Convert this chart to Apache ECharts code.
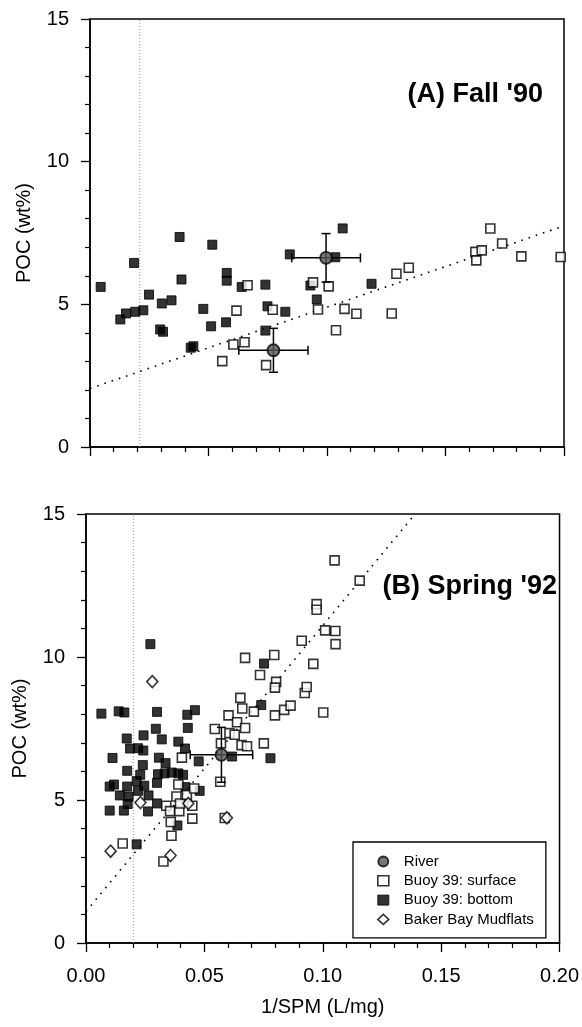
<!DOCTYPE html>
<html>
<head>
<meta charset="utf-8">
<script src="https://cdn.jsdelivr.net/npm/echarts@6/dist/echarts.min.js"></script>
<style>html,body{margin:0;padding:0;background:#fff;}#c{width:582px;height:1027px;}</style>
</head>
<body>
<div id="c"></div>
<script>
// ---------- data (x = 1/SPM in L/mg, y = POC in wt%) ----------
const xTicks = [0.00, 0.05, 0.10, 0.15, 0.20];
const yTicks = [0, 5, 10, 15];

// Panel A: Fall '90
const fallBottom = [[0.0045,5.61],[0.0128,4.47],[0.0152,4.68],[0.0186,6.45],[0.0191,4.74],[0.0225,4.79],[0.0249,5.34],[0.0303,5.03],[0.0296,4.12],[0.0308,4.04],[0.0344,5.14],[0.0378,7.36],[0.0386,5.87],[0.0425,3.48],[0.0436,3.53],[0.0478,4.84],[0.0516,7.09],[0.0511,4.23],[0.0574,4.37],[0.0577,6.10],[0.0577,5.83],[0.0640,5.61],[0.0740,5.69],[0.0749,4.93],[0.0740,4.08],[0.0824,4.74],[0.0843,6.75],[0.0930,5.66],[0.0957,5.17],[0.1035,6.65],[0.1066,7.66],[0.1188,5.72]];
const fallSurface = [[0.0665,5.67],[0.0618,4.78],[0.0605,3.59],[0.0652,3.67],[0.0558,3.01],[0.0743,2.87],[0.0771,4.81],[0.0941,5.77],[0.1007,5.63],[0.0962,4.82],[0.1074,4.84],[0.1038,4.09],[0.1124,4.67],[0.1273,4.68],[0.1293,6.07],[0.1345,6.28],[0.1626,6.84],[0.1630,6.54],[0.1653,6.89],[0.1689,7.66],[0.1739,7.13],[0.1820,6.68],[0.1986,6.66]];
// [x, y, xError, yError]
const fallRiver = [[0.0996,6.63,0.0145,0.85],[0.0774,3.39,0.0146,0.77]];
const fallFit = [[0,2.05],[0.2,7.75]];
const fallCutoff = [[0.021,0],[0.021,15]];

// Panel B: Spring '92
const springBottom = [[0.0065,8.02],[0.0138,8.10],[0.0162,8.06],[0.0300,8.08],[0.0272,10.45],[0.0428,7.98],[0.0460,8.14],[0.0430,7.52],[0.0295,7.49],[0.0172,7.15],[0.0243,7.26],[0.0320,7.12],[0.0390,7.04],[0.0186,6.80],[0.0220,6.81],[0.0242,6.73],[0.0418,6.80],[0.0112,6.47],[0.0308,6.48],[0.0336,6.29],[0.0476,6.35],[0.0240,6.22],[0.0174,6.02],[0.0229,5.88],[0.0304,5.90],[0.0332,5.93],[0.0362,5.96],[0.0390,5.93],[0.0410,5.88],[0.0300,5.60],[0.0420,5.45],[0.0214,5.66],[0.0100,5.47],[0.0118,5.54],[0.0174,5.47],[0.0246,5.50],[0.0143,5.16],[0.0180,5.12],[0.0264,5.16],[0.0480,5.32],[0.0100,4.63],[0.0160,4.63],[0.0176,4.86],[0.0262,4.60],[0.0300,4.88],[0.0386,4.11],[0.0214,3.45],[0.0752,9.77],[0.0740,8.32],[0.0779,6.46],[0.0617,6.52],[0.0220,5.32]];
const springSurface = [[0.0339,4.80],[0.0355,4.61],[0.0358,4.23],[0.0361,3.75],[0.0327,2.85],[0.0155,3.48],[0.0382,5.12],[0.0390,5.54],[0.0405,6.48],[0.0394,4.61],[0.0397,4.88],[0.0426,5.18],[0.0449,4.80],[0.0449,4.35],[0.0457,5.40],[0.0567,5.64],[0.0544,7.48],[0.0570,6.98],[0.0602,7.96],[0.0606,7.34],[0.0628,7.28],[0.0638,7.72],[0.0652,8.57],[0.0660,8.20],[0.0672,7.52],[0.0657,6.92],[0.0680,6.88],[0.0672,9.97],[0.0709,8.09],[0.0735,9.37],[0.0751,6.98],[0.0795,10.07],[0.0803,9.13],[0.0798,8.93],[0.0798,7.96],[0.0837,8.15],[0.0864,8.30],[0.0911,10.57],[0.0924,8.74],[0.0932,8.95],[0.0960,9.76],[0.0974,11.85],[0.0974,11.65],[0.1002,8.06],[0.1010,10.93],[0.1053,10.91],[0.1054,10.45],[0.1050,13.38],[0.1156,12.67],[0.0586,4.37]];
const springMudflats = [[0.0104,3.21],[0.0230,4.91],[0.0280,9.14],[0.0357,3.06],[0.0432,4.88],[0.0595,4.38]];
const springRiver = [[0.0572,6.58,0.0132,0.96]];
const springFit = [[0,1.1],[0.139,15]];
const springCutoff = [[0.020,0],[0.020,15]];

const panelLabels = ["(A) Fall '90", "(B) Spring '92"];
const seriesNames = ['River', 'Buoy 39: surface', 'Buoy 39: bottom', 'Baker Bay Mudflats'];

// ---------- chart ----------
const FONT = 'Liberation Sans, Arial, Helvetica, sans-serif';
const chart = echarts.init(document.getElementById('c'), null, {renderer: 'canvas'});

function xAxisCfg(grid, showLabels) {
  return {
    type: 'value', gridIndex: grid, min: 0, max: 0.2, interval: 0.05,
    splitLine: {show: false},
    axisLine: {show: true, lineStyle: {color: '#000', width: 1.5}},
    axisTick: {show: true, inside: false, length: 9, lineStyle: {color: '#000', width: 1.3}},
    minorTick: {show: true, splitNumber: 5, length: 5, lineStyle: {color: '#000', width: 1.2}},
    axisLabel: {show: showLabels, formatter: v => v.toFixed(2), fontSize: 20, fontFamily: FONT, color: '#000', margin: 23},
    name: showLabels ? '1/SPM (L/mg)' : '', nameLocation: 'middle', nameGap: 54,
    nameTextStyle: {fontSize: 20, fontFamily: FONT, color: '#000'}
  };
}
function yAxisCfg(grid) {
  return {
    type: 'value', gridIndex: grid, min: 0, max: 15, interval: 5,
    splitLine: {show: false},
    axisLine: {show: true, lineStyle: {color: '#000', width: 1.5}},
    axisTick: {show: true, inside: false, length: 9, lineStyle: {color: '#000', width: 1.3}},
    minorTick: {show: true, splitNumber: 5, length: 5, lineStyle: {color: '#000', width: 1.2}},
    axisLabel: {fontSize: 20, fontFamily: FONT, color: '#000', margin: 21},
    name: 'POC (wt%)', nameLocation: 'middle', nameGap: 56, nameRotate: 90,
    nameTextStyle: {fontSize: 20, fontFamily: FONT, color: '#000'}
  };
}

const openSq = {color: '#fff', borderColor: '#000', borderWidth: 1.6};
const fillSq = {color: '#000', borderColor: '#000', borderWidth: 1};
const diam = {color: '#fff', borderColor: '#000', borderWidth: 1.6};
const riverStyle = {color: '#555', borderColor: '#000', borderWidth: 1.8};

function errorBars(data, gi) {
  return {
    type: 'custom', name: 'River error', xAxisIndex: gi, yAxisIndex: gi, z: 4,
    data: data,
    renderItem: function (params, api) {
      const x = api.value(0), y = api.value(1), ex = api.value(2), ey = api.value(3);
      const l = api.coord([x - ex, y]), r = api.coord([x + ex, y]);
      const t = api.coord([x, y + ey]), b = api.coord([x, y - ey]);
      const cap = 4.5;
      const st = {stroke: '#000', lineWidth: 1.5};
      const ln = (x1, y1, x2, y2) => ({type: 'line', shape: {x1, y1, x2, y2}, style: st});
      return {type: 'group', children: [
        ln(l[0], l[1], r[0], r[1]),
        ln(t[0], t[1], b[0], b[1]),
        ln(l[0], l[1] - cap, l[0], l[1] + cap),
        ln(r[0], r[1] - cap, r[0], r[1] + cap),
        ln(t[0] - cap, t[1], t[0] + cap, t[1]),
        ln(b[0] - cap, b[1], b[0] + cap, b[1])
      ]};
    }
  };
}

function panelSeries(gi, bottom, surface, mud, river, fit, cutoff) {
  const s = [
    {type: 'line', name: 'cutoff', xAxisIndex: gi, yAxisIndex: gi, data: cutoff, symbol: 'none', silent: true, z: 1,
     lineStyle: {color: '#999', width: 1, type: [1, 2]}},
    {type: 'line', name: 'fit', xAxisIndex: gi, yAxisIndex: gi, data: fit, symbol: 'none', silent: true, z: 1,
     lineStyle: {color: '#000', width: 1.6, type: [1.6, 6]}},
    {type: 'scatter', name: seriesNames[2], xAxisIndex: gi, yAxisIndex: gi, data: bottom, symbol: 'rect', symbolSize: 9, itemStyle: fillSq, z: 2},
    {type: 'scatter', name: seriesNames[1], xAxisIndex: gi, yAxisIndex: gi, data: surface, symbol: 'rect', symbolSize: 9, itemStyle: openSq, z: 3}
  ];
  if (mud) s.push({type: 'scatter', name: seriesNames[3], xAxisIndex: gi, yAxisIndex: gi, data: mud, symbol: 'diamond', symbolSize: [11, 12], itemStyle: diam, z: 3});
  s.push(errorBars(river, gi));
  s.push({type: 'scatter', name: seriesNames[0], xAxisIndex: gi, yAxisIndex: gi, data: river.map(d => [d[0], d[1]]), symbol: 'circle', symbolSize: 12, itemStyle: riverStyle, z: 5});
  return s;
}

const option = {
  backgroundColor: '#fff',
  animation: false,
  grid: [
    {left: 90, right: 18, top: 19, height: 428, show: true, borderColor: '#000', borderWidth: 1.5, backgroundColor: 'transparent'},
    {left: 86, right: 20, top: 514, height: 429, show: true, borderColor: '#000', borderWidth: 1.5, backgroundColor: 'transparent'}
  ],
  xAxis: [xAxisCfg(0, false), xAxisCfg(1, true)],
  yAxis: [yAxisCfg(0), yAxisCfg(1)],
  legend: {
    data: [
      {name: seriesNames[0], icon: 'circle', itemStyle: riverStyle},
      {name: seriesNames[1], icon: 'rect', itemStyle: openSq},
      {name: seriesNames[2], icon: 'rect', itemStyle: fillSq},
      {name: seriesNames[3], icon: 'diamond', itemStyle: diam}
    ],
    orient: 'vertical', left: 353, top: 842,
    padding: [11.5, 12, 10.5, 24],
    borderColor: '#000', borderWidth: 1.3, backgroundColor: '#fff',
    itemWidth: 11, itemHeight: 10, itemGap: 3.3,
    selectedMode: false,
    textStyle: {fontSize: 15, fontFamily: FONT, color: '#000', lineHeight: 16, padding: [0, 0, 0, 10]}
  },
  graphic: [
    {type: 'text', x: 543, y: 95, style: {text: panelLabels[0], textAlign: 'right', textVerticalAlign: 'middle', font: 'bold 27px ' + FONT, fill: '#000'}},
    {type: 'text', x: 557, y: 587, style: {text: panelLabels[1], textAlign: 'right', textVerticalAlign: 'middle', font: 'bold 27px ' + FONT, fill: '#000'}}
  ],
  series: [].concat(
    panelSeries(0, fallBottom, fallSurface, null, fallRiver, fallFit, fallCutoff),
    panelSeries(1, springBottom, springSurface, springMudflats, springRiver, springFit, springCutoff)
  )
};
chart.setOption(option);
</script>
</body>
</html>
